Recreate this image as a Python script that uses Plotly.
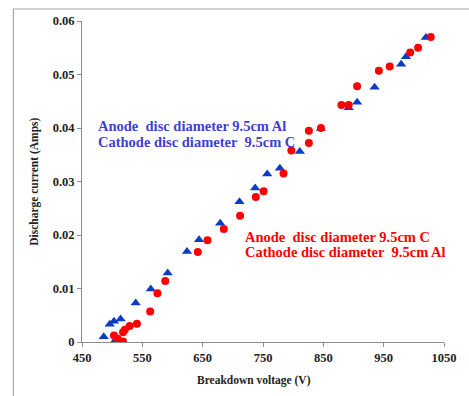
import plotly.graph_objects as go

# Blue: Anode 9.5cm Al / Cathode 9.5cm C
blue_v = [486, 496, 503, 505, 514, 539, 564, 592, 624, 644, 679, 711, 737, 757, 778, 811, 846, 892, 906, 935, 979, 987, 1020]
blue_i = [0.0010, 0.0033, 0.0039, 0.0003, 0.0043, 0.0073, 0.0099, 0.0129, 0.0169, 0.0191, 0.0222, 0.0262, 0.0288, 0.0314, 0.0325, 0.0356, 0.0399, 0.0438, 0.0448, 0.0476, 0.0519, 0.0533, 0.0569]

# Red: Anode 9.5cm C / Cathode 9.5cm Al
red_v = [503, 509, 518, 518, 521, 529, 541, 563, 575, 588, 642, 658, 685, 712, 738, 751, 784, 797, 826, 826, 846, 880, 892, 906, 942, 960, 994, 1007, 1028]
red_i = [0.0012, 0.0006, 0.0001, 0.0018, 0.0023, 0.0030, 0.0034, 0.0057, 0.0091, 0.0114, 0.0168, 0.0190, 0.0211, 0.0236, 0.0271, 0.0282, 0.0315, 0.0358, 0.0372, 0.0395, 0.0400, 0.0443, 0.0443, 0.0478, 0.0507, 0.0515, 0.0541, 0.0550, 0.0570]

x_ticks = [450, 550, 650, 750, 850, 950, 1050]
x_ticktext = ["450", "550", "650", "750", "850", "950", "1050"]
y_ticks = [0, 0.01, 0.02, 0.03, 0.04, 0.05, 0.06]
y_ticktext = ["0", "0.01", "0.02", "0.03", "0.04", "0.05", "0.06"]

blue_label = ["Anode\u00a0 disc diameter 9.5cm Al", "Cathode disc diameter\u00a0 9.5cm C"]
red_label = ["Anode\u00a0 disc diameter 9.5cm C", "Cathode disc diameter\u00a0 9.5cm Al"]

FONT = "'Liberation Serif', 'Times New Roman', Times, serif"
AXIS_GREY = "#8c8c8c"
TXT = "#222222"

fig = go.Figure()
fig.add_trace(go.Scatter(x=blue_v, y=blue_i, mode="markers",
                         marker=dict(symbol="triangle-up", size=9, color="#0b3cc4"),
                         showlegend=False))
fig.add_trace(go.Scatter(x=red_v, y=red_i, mode="markers",
                         marker=dict(symbol="circle", size=8, color="#ff0000"),
                         showlegend=False))

tickfont = dict(family=FONT, size=12.5, color=TXT, weight="bold")
fig.update_xaxes(range=[450, 1050], tickvals=x_ticks, ticktext=x_ticktext,
                 showgrid=False, zeroline=False, showline=True, linecolor=AXIS_GREY,
                 linewidth=1, ticks="outside", ticklen=4, tickcolor=AXIS_GREY,
                 tickfont=tickfont)
fig.update_yaxes(range=[0, 0.06], tickvals=y_ticks, ticktext=y_ticktext,
                 showgrid=False, zeroline=False, showline=True, linecolor=AXIS_GREY,
                 linewidth=1, ticks="outside", ticklen=4, tickcolor=AXIS_GREY,
                 tickfont=tickfont)

L, R, T, B = 82, 15, 21, 54
W, H = 469, 396
pw, ph = W - L - R, H - T - B

def px(xp):
    return (xp - L) / pw

def py(yp):
    return (H - B - yp) / ph

annotations = []
for txt, yc in zip(blue_label, [126, 142]):
    annotations.append(dict(text=txt, x=px(96), y=py(yc), xref="paper", yref="paper",
                            xanchor="left", yanchor="middle", showarrow=False,
                            font=dict(family=FONT, size=14.5, color="#3f3fcf", weight="bold")))
for txt, yc in zip(red_label, [236.7, 252]):
    annotations.append(dict(text=txt, x=px(247.5), y=py(yc), xref="paper", yref="paper",
                            xanchor="left", yanchor="middle", showarrow=False,
                            font=dict(family=FONT, size=14.5, color="#ff0000", weight="bold")))
annotations += [
    dict(text="Discharge current (Amps)", x=px(33), y=0.5, xref="paper", yref="paper",
         textangle=-90, showarrow=False, xanchor="center", yanchor="middle",
         font=dict(family=FONT, size=11.5, color=TXT, weight="bold")),
    dict(text="Breakdown voltage (V)", x=px(259), y=py(381), xref="paper", yref="paper",
         showarrow=False, xanchor="center", yanchor="middle",
         font=dict(family=FONT, size=11.5, color=TXT, weight="bold")),
]

fig.update_layout(
    width=W, height=H,
    margin=dict(l=L, r=R, t=T, b=B),
    paper_bgcolor="white", plot_bgcolor="white",
    annotations=annotations,
    shapes=[dict(type="rect", xref="paper", yref="paper",
                 x0=px(11.5), x1=px(560), y0=py(500), y1=py(9),
                 line=dict(color="#a6a6a6", width=1.2), fillcolor="rgba(0,0,0,0)", layer="below")],
    font=dict(family=FONT, color=TXT),
)

fig.write_html("out.html")
